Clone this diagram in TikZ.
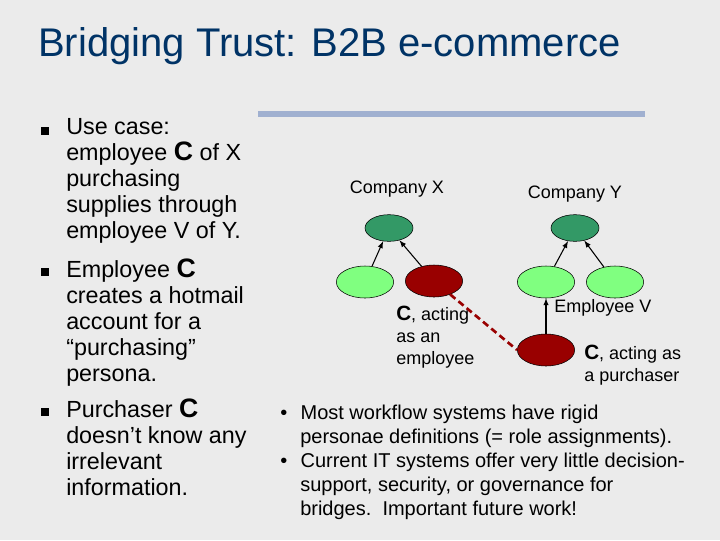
\documentclass[tikz,border=0pt]{standalone}
\usepackage{fontspec}
\setmainfont{Liberation Sans}
\usetikzlibrary{shapes.geometric}
\begin{document}
\begin{tikzpicture}[x=0.75pt,y=-0.75pt,
  dg/.style={ellipse,draw=black,fill={rgb,255:red,51;green,153;blue,102},minimum width=36pt,minimum height=20pt,inner sep=0},
  lg/.style={ellipse,draw=black,fill={rgb,255:red,128;green,255;blue,128},minimum width=43pt,minimum height=24pt,inner sep=0},
  rd/.style={ellipse,draw=black,fill={rgb,255:red,153;green,0;blue,0},minimum width=43pt,minimum height=24pt,inner sep=0},
  ar/.style={-latex,thick},
  lbl/.style={font=\fontsize{13.5}{16}\selectfont,inner sep=0},
  lt/.style={anchor=north west,inner sep=0,align=left,font=\fontsize{17.5}{19.5}\selectfont}]
\fill[fill={rgb,255:red,235;green,235;blue,235}] (0,0) rectangle (720,540);
\node[anchor=west,inner sep=0,text={rgb,255:red,0;green,51;blue,102},font=\fontsize{30}{34}\selectfont] (title) at (38,46) {Bridging Trust: B2B e-commerce};
\draw[line width=4.5pt,draw={rgb,255:red,160;green,176;blue,208}] (258,114) -- (645,114);
% left bullets
\foreach \y/\n in {131/b1,272/b2,412/b3}{\node[fill=black,minimum size=6pt,inner sep=0] (\n) at (45,\y) {};}
\node[lt] (t1) at (66,118) {Use case:\\employee {\fontsize{20}{19.5}\selectfont\bfseries C} of X\\purchasing\\supplies through\\employee V of Y.};
\node[lt] (t2) at (66,259) {Employee {\fontsize{20}{19.5}\selectfont\bfseries C}\\creates a hotmail\\account for a\\“purchasing”\\persona.};
\node[lt] (t3) at (66,399) {Purchaser {\fontsize{20}{19.5}\selectfont\bfseries C}\\doesn’t know any\\irrelevant\\information.};
% diagram
\node[dg] (cx) at (389,228) {};
\node[dg] (cy) at (575,228) {};
\node[lg] (x1) at (365,282) {};
\node[rd] (x2) at (434,281) {};
\node[lg] (y1) at (546,282) {};
\node[lg] (y2) at (615,282) {};
\node[rd] (y3) at (546,350) {};
\draw[ar] (x1) -- (cx);
\draw[ar] (x2) -- (cx);
\draw[ar] (y1) -- (cy);
\draw[ar] (y2) -- (cy);
\draw[ar] (y3) -- (y1);
\draw[line width=2pt,draw={rgb,255:red,153;green,0;blue,0},dash pattern=on 5pt off 3pt] (x2) -- (y3.west);
\node[lbl] (lx) at (397,189) {Company X};
\node[lbl] (ly) at (575,194) {Company Y};
\node[lbl,anchor=west] (lv) at (554,308) {Employee V};
\node[lbl,anchor=north west,align=left,font=\fontsize{13.5}{16.5}\selectfont] (lc1) at (396,306) {{\fontsize{15.5}{16}\selectfont\bfseries C}, acting\\as an\\employee};
\node[lbl,anchor=north west,align=left,font=\fontsize{13.5}{16.5}\selectfont] (lc2) at (584,345) {{\fontsize{15.5}{16}\selectfont\bfseries C}, acting as\\a purchaser};
% right bullets
\node[anchor=north west,inner sep=0,align=left,font=\fontsize{15}{18}\selectfont] (r1) at (280,405) {•\hspace{10pt}Most workflow systems have rigid\\\hspace{15pt}personae definitions (= role assignments).\\•\hspace{10pt}Current IT systems offer very little decision-\\\hspace{15pt}support, security, or governance for\\\hspace{15pt}bridges.\ \ Important future work!};
\end{tikzpicture}
\end{document}
